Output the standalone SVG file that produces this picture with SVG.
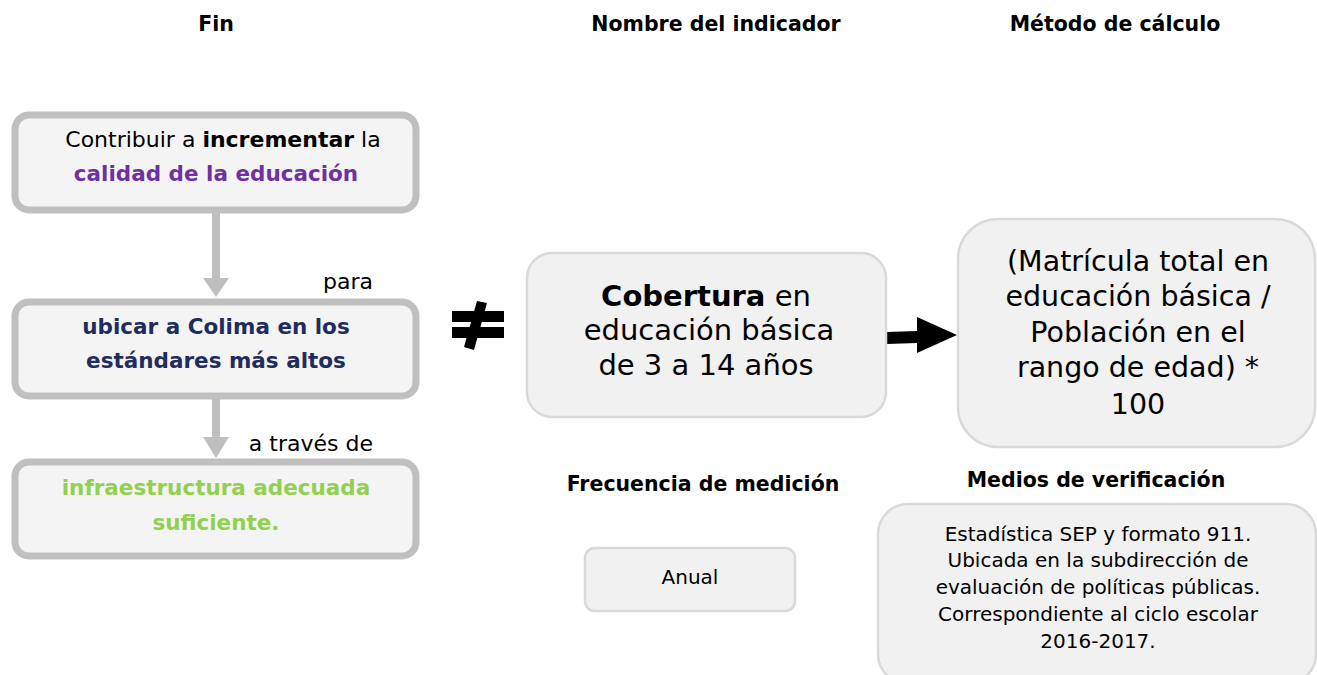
<svg xmlns="http://www.w3.org/2000/svg" width="1317" height="675" viewBox="0 0 1317 675">
<style>
text{font-family:"DejaVu Sans","Liberation Sans",sans-serif;text-anchor:middle;fill:#000}
.h{font-weight:bold;font-size:20.5px}
.lbox{fill:#f4f4f4;stroke:#bfbfbf;stroke-width:7}
.box{fill:#f1f1f1;stroke:#d9d9d9;stroke-width:2.5}
.lt{font-size:22px}
.b{font-weight:bold}
.lb{font-size:21.5px;font-weight:bold}
.big{font-size:29px}
.mt{font-size:28.5px}
.sm{font-size:20px}
</style>
<g id="headers">
<text class="h" x="216" y="31">Fin</text>
<text class="h" x="716" y="31">Nombre del indicador</text>
<text class="h" x="1115" y="31">Método de cálculo</text>
<text class="h" x="703" y="491">Frecuencia de medición</text>
<text class="h" x="1096" y="487">Medios de verificación</text>
</g>
<g id="connectors">
<line x1="216" y1="212" x2="216" y2="278" stroke="#bfbfbf" stroke-width="8"/>
<path d="M203,278L229,278L216,297z" fill="#bfbfbf"/>
<line x1="216" y1="398" x2="216" y2="438" stroke="#bfbfbf" stroke-width="8"/>
<path d="M203,437L229,437L216,458z" fill="#bfbfbf"/>
<text class="lt" x="373" y="289" style="text-anchor:end">para</text>
<text class="lt" x="373" y="451" style="text-anchor:end">a través de</text>
<path d="M887,332L917,331L917,317L957,335L917,353L917,343L887,344z" fill="#000"/>
</g>
<g id="neq">
<rect x="452" y="311" width="52" height="11" fill="#000"/>
<rect x="452" y="327" width="52" height="11" fill="#000"/>
<path d="M477,301L487,303L474,350L464,347z" fill="#000"/>
</g>
<g id="fin1">
<rect class="lbox" x="15" y="115" width="401" height="95" rx="14"/>
<text class="lt" x="223" y="147">Contribuir a <tspan class="b">incrementar</tspan> la</text>
<text class="lb" x="216" y="181" style="fill:#7030a0">calidad de la educación</text>
</g>
<g id="fin2">
<rect class="lbox" x="15" y="302" width="401" height="94" rx="14"/>
<text class="lb" x="216" y="334" style="fill:#1f2d5e">ubicar a Colima en los</text>
<text class="lb" x="216" y="368" style="fill:#1f2d5e">estándares más altos</text>
</g>
<g id="fin3">
<rect class="lbox" x="15" y="462" width="401" height="94" rx="14"/>
<text class="lb" x="216" y="495" style="fill:#92d050">infraestructura adecuada</text>
<text class="lb" x="216" y="530" style="fill:#92d050">suficiente.</text>
</g>
<g id="indicador">
<rect class="box" x="527" y="253" width="359" height="164" rx="25"/>
<text class="big" x="706" y="306"><tspan class="b">Cobertura</tspan> en</text>
<text class="big" x="709" y="340">educación básica</text>
<text class="big" x="706" y="375">de 3 a 14 años</text>
</g>
<g id="metodo">
<rect class="box" x="958" y="219" width="357" height="228" rx="40"/>
<text class="mt" x="1138" y="271">(Matrícula total en</text>
<text class="mt" x="1138" y="306">educación básica /</text>
<text class="mt" x="1138" y="342">Población en el</text>
<text class="mt" x="1138" y="377">rango de edad) *</text>
<text class="mt" x="1138" y="414">100</text>
</g>
<g id="frecuencia">
<rect class="box" x="585" y="548" width="210" height="63" rx="10"/>
<text x="690" y="584" style="font-size:20px">Anual</text>
</g>
<g id="medios">
<rect class="box" x="878" y="504" width="438" height="180" rx="30"/>
<text class="sm" x="1098" y="541">Estadística SEP y formato 911.</text>
<text class="sm" x="1098" y="567">Ubicada en la subdirección de</text>
<text class="sm" x="1098" y="594">evaluación de políticas públicas.</text>
<text class="sm" x="1098" y="621">Correspondiente al ciclo escolar</text>
<text class="sm" x="1098" y="648">2016-2017.</text>
</g>
</svg>
